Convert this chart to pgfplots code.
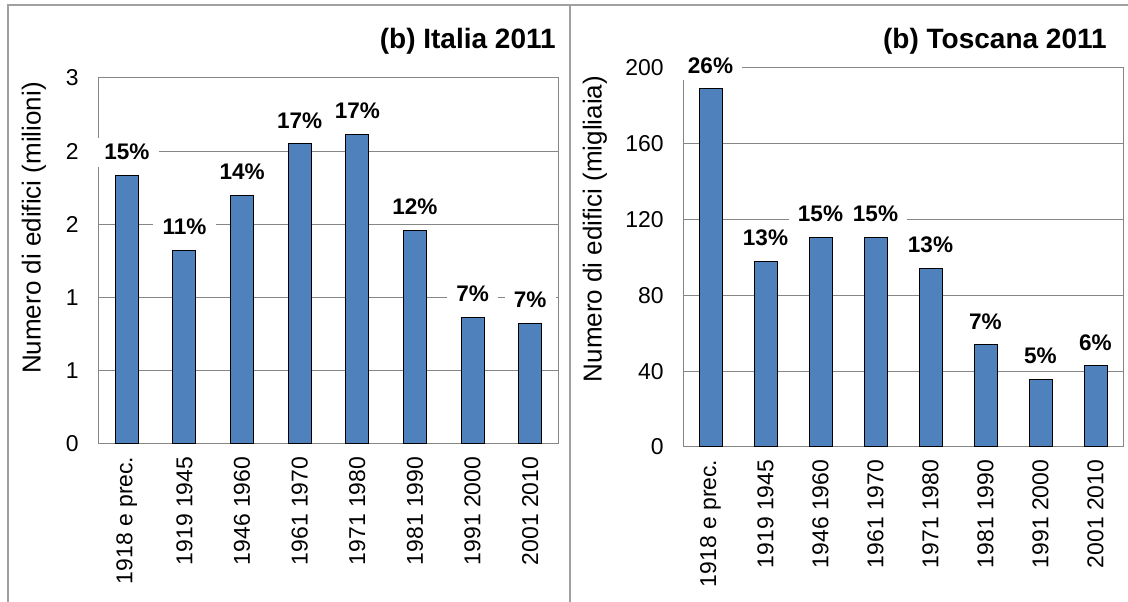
\documentclass[border=0pt]{standalone}
\usepackage{fontspec}
\setmainfont{Liberation Sans}
\usepackage{pgfplots}
\pgfplotsset{compat=1.18}

\definecolor{barblue}{HTML}{4F81BD}
\definecolor{gridgray}{HTML}{868686}
\definecolor{framegray}{HTML}{A0A0A0}

% sizes in pt, 1 px of the reference = 0.75pt
\newcommand{\tickfont}{\fontsize{17.2}{18}\selectfont}
\newcommand{\labfont}{\fontsize{19.5}{21}\selectfont}
\newcommand{\valfont}{\fontsize{16.9}{18}\selectfont\bfseries}
\newcommand{\titfont}{\fontsize{21}{23}\selectfont\bfseries}

\pgfplotsset{
  barpanel/.style={
    scale only axis,
    anchor=south west,
    xmin=-0.5, xmax=7.5,
    ymin=0,
    xtick={0,...,7},
    xticklabels={1918 e prec.,1919 1945,1946 1960,1961 1970,1971 1980,1981 1990,1991 2000,2001 2010},
    xticklabel style={font=\tickfont, yshift=-6pt, rotate=90, anchor=east},
    yticklabel style={font=\tickfont, xshift=-11pt},
    /pgf/number format/assume math mode=true,
    major tick length=0pt,
    ymajorgrids,
    major grid style={gridgray, line width=0.75pt},
    axis line style={gridgray, line width=0.75pt},
    clip=false,
    ybar, bar width=17.25pt,
    point meta=explicit symbolic,
    nodes near coords,
    nodes near coords style={font=\valfont, fill=white, inner xsep=7pt, inner ysep=5pt, anchor=center, yshift=17.5pt},
  },
  barstyle/.style={fill=barblue, draw=black, line width=0.75pt},
}

\begin{document}
\begin{tikzpicture}
\useasboundingbox (0,0) rectangle (846pt,451.5pt);

% panel frames
\draw[framegray, line width=1.1pt] (6pt,0) -- (6pt,447.75pt) -- (846pt,447.75pt);
\draw[framegray, line width=1.1pt] (427.5pt,0) -- (427.5pt,447.75pt);

% Italia (ticks every 0.6, shown rounded as in the original)
\begin{axis}[barpanel,
  at={(73.5pt,118.5pt)},
  width=345.75pt, height=274.5pt,
  ymax=3,
  ytick={0,0.6,1.2,1.8,2.4,3},
  yticklabels={0,1,1,2,2,3},
  ylabel={Numero di edifici (milioni)},
  ylabel style={font=\labfont, at={(axis description cs:-0.139,0.59)}, rotate=0, anchor=center},
]
\addplot[barstyle] coordinates {
  (0,2.20) [15\%]
  (1,1.59) [11\%]
  (2,2.04) [14\%]
  (3,2.46) [17\%]
  (4,2.54) [17\%]
  (5,1.75) [12\%]
  (6,1.04) [7\%]
  (7,0.99) [7\%]
};
\end{axis}

% Toscana
\begin{axis}[barpanel,
  at={(512.25pt,116.25pt)},
  width=330pt, height=284.25pt,
  ymax=200,
  ytick={0,40,...,200},
  ylabel={Numero di edifici (migliaia)},
  ylabel style={font=\labfont, at={(axis description cs:-0.2,0.575)}, rotate=0, anchor=center},
]
\addplot[barstyle] coordinates {
  (0,189) [26\%]
  (1,97.9) [13\%]
  (2,110.6) [15\%]
  (3,110.8) [15\%]
  (4,94.4) [13\%]
  (5,53.9) [7\%]
  (6,35.8) [5\%]
  (7,42.8) [6\%]
};
\end{axis}

\node[font=\titfont, anchor=base east, inner sep=0pt] at (417pt,414.75pt) {(b) Italia 2011};
\node[font=\titfont, anchor=base east, inner sep=0pt] at (830.25pt,415pt) {(b) Toscana 2011};
\end{tikzpicture}
\end{document}
